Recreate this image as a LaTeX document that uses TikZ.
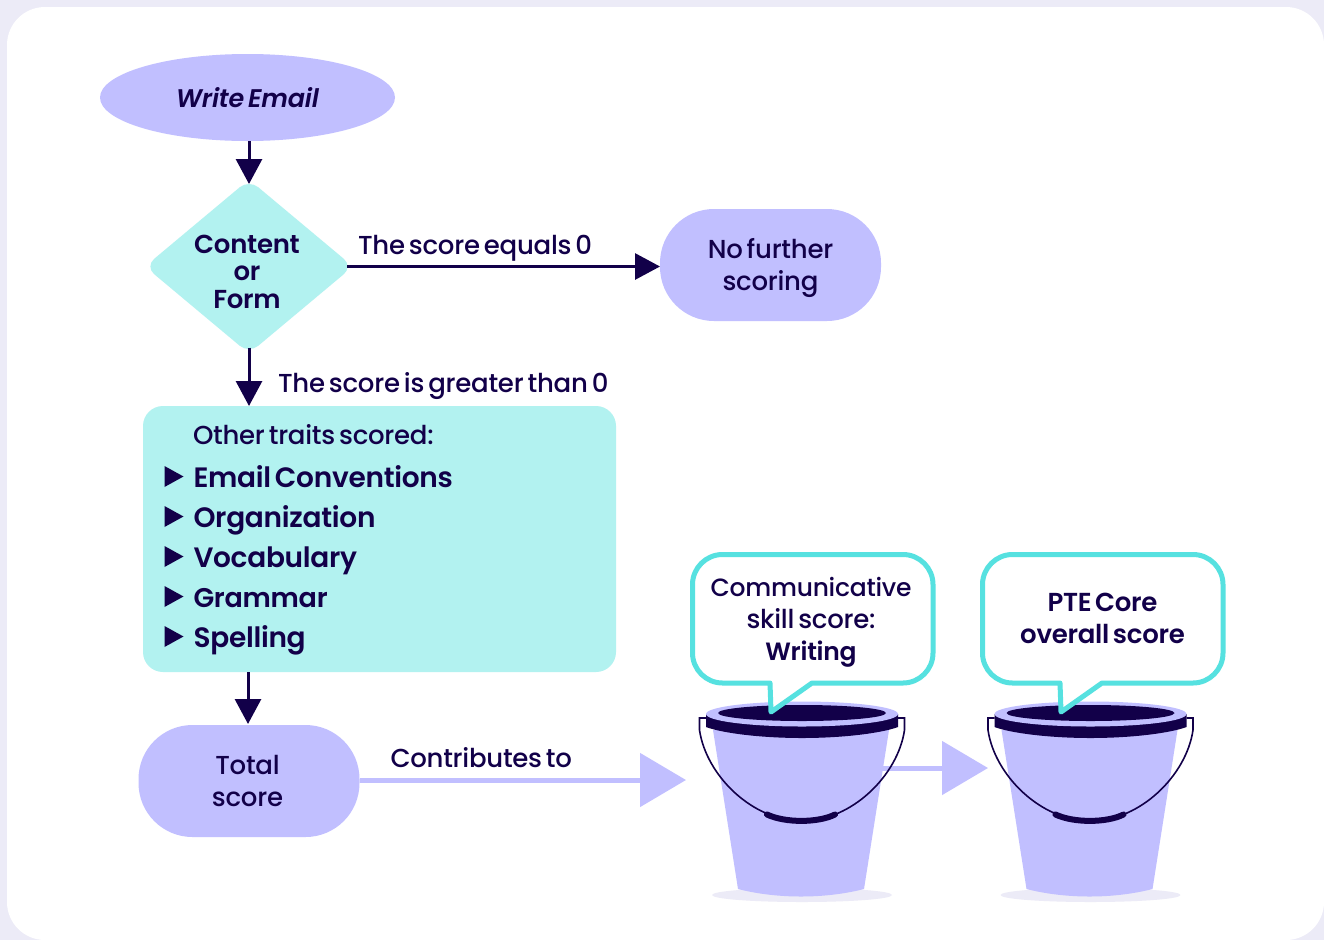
\documentclass[tikz,border=0pt]{standalone}
\usepackage{fontspec}
\setmainfont{Poppins}[UprightFont={* Medium},BoldFont={* SemiBold},ItalicFont={* SemiBold Italic},WordSpace=0.6,LetterSpace=-1]
\usetikzlibrary{arrows.meta,shapes.geometric}
\definecolor{lav}{HTML}{C1BFFF}
\definecolor{teal}{HTML}{B2F2F0}
\definecolor{navy}{HTML}{120049}
\definecolor{pagebg}{HTML}{ECEBF7}
\definecolor{bubble}{HTML}{56E1E0}
\tikzset{
  x=1pt,y=-1pt,
  every node/.style={text=navy,inner sep=0pt,outer sep=0pt},
  flow/.style={draw=navy,line width=3pt,-{Triangle[length=25pt,width=26pt]}},
  contrib/.style={draw=lav,line width=5pt,-{Triangle[length=46pt,width=53pt]}},
  stadium/.style={fill=lav,rounded corners=54pt,minimum width=221pt,minimum height=112pt,align=center,font=\fontsize{26}{32}\selectfont},
  lab/.style={font=\fontsize{26}{32}\selectfont,anchor=base west},
  item/.style={font=\fontsize{28}{32}\selectfont\bfseries,anchor=base west},
  bub/.style={font=\fontsize{26}{32}\selectfont,align=center}
}
\newcommand{\bucketdraw}{%
  \fill[pagebg] (802,895) ellipse [x radius=90,y radius=7];
  \fill[lav] (713,730) -- (889,730) -- (864,889) .. controls (825,899) and (777,899) .. (738,889) -- cycle;
  \fill[navy] (706,714) -- (706,727) .. controls (722,733) and (760,738) .. (802,738) .. controls (844,738) and (882,733) .. (898,727) -- (898,714) -- cycle;
  \fill[lav] (802,714) ellipse [x radius=96,y radius=12.5];
  \fill[navy] (802,713) ellipse [x radius=84,y radius=8];
  \draw[navy,line width=1.6pt] (706,718) -- (699.5,718) -- (699.5,730) .. controls (706,775) and (752,821) .. (802,821) .. controls (852,821) and (898,775) .. (904.5,730) -- (904.5,718) -- (898,718);
  \draw[navy,line width=6pt,line cap=round] (767,814.5) .. controls (785,823) and (818,823) .. (835,814.5);
}
\newcommand{\bubbledraw}{%
  \draw[bubble,fill=white,line width=5pt,line join=round]
    (770,683) -- (722.5,683) .. controls (706,683) and (692.5,669.5) .. (692.5,653) -- (692.5,584.5)
    .. controls (692.5,568) and (706,554.5) .. (722.5,554.5) -- (903,554.5)
    .. controls (919.5,554.5) and (933,568) .. (933,584.5) -- (933,653)
    .. controls (933,669.5) and (919.5,683) .. (903,683) -- (812,683) -- (771,712) -- cycle;
}
\begin{document}
\begin{tikzpicture}
\useasboundingbox (0,0) rectangle (1324,940);
\fill[pagebg] (0,0) rectangle (1324,940);
\fill[white,rounded corners=38pt] (7,7) rectangle (1324,940);

\node[ellipse,fill=lav,minimum width=295pt,minimum height=87pt,font=\fontsize{25.5}{32}\selectfont\itshape] (write) at (247.5,97.5) {Write Email};
\node[diamond,fill=teal,rounded corners=12pt,minimum width=208pt,minimum height=174pt] (dia) at (249,266.5) {};
\node[font=\fontsize{26}{28}\selectfont\bfseries,align=center] (diatext) at (247,271.5) {Content\\[-1pt]or\\[0pt]Form};
\node[stadium] (nofurther) at (770.5,265) {\rule{0pt}{26pt}No further\\scoring};
\node[fill=teal,rounded corners=20pt,minimum width=473pt,minimum height=266pt] (traits) at (379.5,539) {};
\node[stadium] (total) at (249,781) {Total\hspace*{3pt}\\score\hspace*{3pt}};

\draw[flow,shorten >=-4.5pt] (write.south -| dia.north) -- (dia.north);
\draw[flow] ([xshift=-6pt]dia.east) -- (nofurther.west |- dia.east);
\draw[flow] ([yshift=6pt]dia.south) -- (dia.south |- traits.north);
\draw[flow] (248,672) -- (248,724);
\coordinate (b1in) at (686,780);
\coordinate (b1out) at (880,768);
\coordinate (b2in) at (988,768);
\draw[contrib] (total.east |- b1in) -- (b1in);
\draw[contrib] (b1out) -- (b2in);

\node[lab] (l1) at (358,254) {The score equals 0};
\node[lab] (l2) at (278,392.5) {The score is greater than 0};
\node[lab] (l3) at (390.5,767.5) {Contributes to};

\node[lab] (other) at (193,444.5) {Other traits scored:};
\foreach \n/\t/\y in {i1/Email Conventions/487,i2/Organization/527,i3/Vocabulary/567,i4/{\fontsize{27}{32}\selectfont Grammar}/607,i5/Spelling/647}{
  \node[item] (\n) at (193.5,\y) {\t};
  \fill[navy] (164.5,\y-21) -- (183.5,\y-10.5) -- (164.5,\y) -- cycle;
}

\bucketdraw
\begin{scope}[xshift=288.5pt]\bucketdraw\end{scope}
\bubbledraw
\begin{scope}[xshift=290pt]\bubbledraw\end{scope}
\node[bub] (c1) at (811,622.5) {{\fontsize{25}{32}\selectfont Communicative}\\skill score:\\{\fontsize{25}{32}\selectfont\bfseries Writing}};
\node[bub] (c2) at (1102.5,618) {\bfseries PTE Core\\\bfseries overall score};
\end{tikzpicture}
\end{document}
